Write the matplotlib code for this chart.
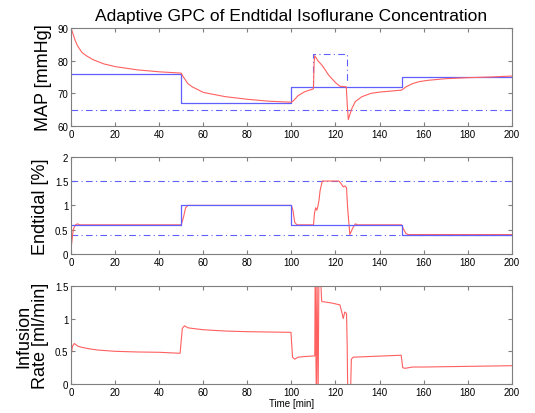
import matplotlib
matplotlib.use("Agg")
import matplotlib.pyplot as plt

plt.rcParams['font.family'] = ['Liberation Sans', 'DejaVu Sans']

# ---- MAP panel ----
map_t = [0, 1, 2, 3, 5, 7, 10, 15, 20, 30, 40, 50, 51, 53, 55, 58, 60, 70, 80, 90, 100,
         101, 103, 106, 110, 110.3, 110.6, 112, 114, 117, 120, 122, 124.9, 125.3, 125.8,
         126.5, 127.5, 129, 132, 136, 140, 145, 150, 152, 155, 158, 162, 170, 180, 190, 200]
map_meas = [90, 88, 86, 84.5, 82.5, 81.5, 80.3, 79, 78.2, 77.2, 76.6, 76.2, 75, 73, 72, 71, 70.3, 69, 68.2, 67.6, 67.3,
            67.8, 69.3, 70.5, 71.4, 79.5, 81.5, 80, 78.5, 75.5, 73.3, 72.2, 72, 67, 62,
            63.5, 65.5, 67.5, 69, 70, 70.4, 70.7, 71, 72, 73, 73.6, 74, 74.5, 74.8, 75, 75.3]
map_ref_t = [0, 50, 50, 100, 100, 150, 150, 200]
map_ref = [76, 76, 67, 67, 72, 72, 75, 75]
map_low_t = [0, 200]
map_low = [65, 65]
map_dist_t = [110, 110, 125, 125]
map_dist = [72, 82, 82, 73.5]

# ---- Endtidal panel ----
et_t = [0, 0.5, 1, 1.5, 2, 3, 4, 50, 51, 52, 53, 55, 100, 100.7, 101.5, 102.5, 110,
        110.5, 111, 111.5, 112, 112.5, 113, 114, 121.5, 122.5, 123.5, 124.3, 125, 125.5,
        126.5, 127, 128, 129, 130, 132, 150, 151, 152, 153, 200]
et_meas = [0.1, 0.3, 0.5, 0.55, 0.6, 0.62, 0.6, 0.6, 0.75, 0.95, 1.0, 1.0, 1.0, 0.9, 0.65, 0.6, 0.6,
           0.85, 0.95, 0.9, 0.98, 1.1, 1.3, 1.5, 1.5, 1.45, 1.38, 1.4, 1.36, 0.95,
           0.4, 0.45, 0.55, 0.62, 0.6, 0.6, 0.6, 0.5, 0.42, 0.4, 0.4]
et_ref_t = [0, 50, 50, 100, 100, 150, 150, 200]
et_ref = [0.6, 0.6, 1.0, 1.0, 0.6, 0.6, 0.4, 0.4]
et_hi = [1.5, 1.5]
et_lo = [0.4, 0.4]

# ---- Infusion panel ----
inf_t = [0, 0.7, 1.5, 3, 5, 8, 12, 20, 30, 40, 49.5, 50.5, 51.5, 53, 55, 60, 70, 80, 90, 99.8,
         100.5, 101.5, 103, 106, 110.6, 110.8, 111.3, 111.6, 112.1, 112.5, 113.3, 113.7,
         114, 118, 122, 123, 123.5, 124.2, 125, 125.3, 125.6, 126.7, 127.2, 128,
         135, 149.8, 150.5, 151.5, 155, 160, 180, 200]
inf_rate = [0.43, 0.58, 0.62, 0.58, 0.56, 0.54, 0.52, 0.5, 0.49, 0.485, 0.47, 0.85, 0.89, 0.86, 0.85, 0.83, 0.81, 0.8, 0.795, 0.79,
            0.41, 0.38, 0.41, 0.42, 0.43, 1.8, -0.3, 1.8, -0.3, 1.8, 1.6, 1.27,
            1.26, 1.24, 1.21, 1.08, 1.0, 1.1, 1.08, 0.6, -0.3, -0.3, 0.38, 0.41,
            0.42, 0.44, 0.25, 0.24, 0.26, 0.26, 0.27, 0.28]

red = '#ff6060'
blue = '#6060ff'
grey = '#7f7f7f'

fig = plt.figure(figsize=(5.35, 4.14), dpi=100)
L, W = 0.1327, 0.824
ax1 = fig.add_axes([L, 0.693, W, 0.237])
ax2 = fig.add_axes([L, 0.384, W, 0.235])
ax3 = fig.add_axes([L, 0.070, W, 0.237])

def style(ax):
    for s in ax.spines.values():
        s.set_color(grey)
        s.set_linewidth(0.8)
    ax.tick_params(direction='in', top=True, right=True, length=3, width=0.8,
                   color=grey, labelsize=7, pad=2)
    ax.set_xlim(0, 200)
    ax.set_xticks(range(0, 201, 20))

dashdot = (0, (6, 3, 1, 3))

ax1.plot(map_low_t, map_low, color=blue, lw=0.8, ls=dashdot)
ax1.plot(map_dist_t, map_dist, color=blue, lw=0.8, ls=dashdot)
ax1.plot(map_ref_t, map_ref, color=blue, lw=0.9)
ax1.plot(map_t, map_meas, color=red, lw=0.8)
ax1.set_ylim(60, 90)
ax1.set_yticks([60, 70, 80, 90])
ax1.set_ylabel('MAP [mmHg]', fontsize=13)
ax1.set_title('Adaptive GPC of Endtidal Isoflurane Concentration', fontsize=12.5, pad=6)
style(ax1)

ax2.plot(map_low_t, et_hi, color=blue, lw=0.8, ls=dashdot)
ax2.plot(map_low_t, et_lo, color=blue, lw=0.8, ls=dashdot)
ax2.plot(et_t, et_meas, color=red, lw=0.8)
ax2.plot(et_ref_t, et_ref, color=blue, lw=0.9)
ax2.set_ylim(0, 2)
ax2.set_yticks([0, 0.5, 1, 1.5, 2])
ax2.set_yticklabels(['0', '0.5', '1', '1.5', '2'])
ax2.set_ylabel('Endtidal [%]', fontsize=13)
style(ax2)

ax3.plot(inf_t, inf_rate, color=red, lw=0.8)
ax3.set_ylim(0, 1.5)
ax3.set_yticks([0, 0.5, 1, 1.5])
ax3.set_yticklabels(['0', '0.5', '1', '1.5'])
ax3.set_ylabel('Infusion\nRate [ml/min]', fontsize=13, linespacing=1.0)
ax3.set_xlabel('Time [min]', fontsize=7, labelpad=1)
style(ax3)

fig.savefig('out.png', dpi=100)
